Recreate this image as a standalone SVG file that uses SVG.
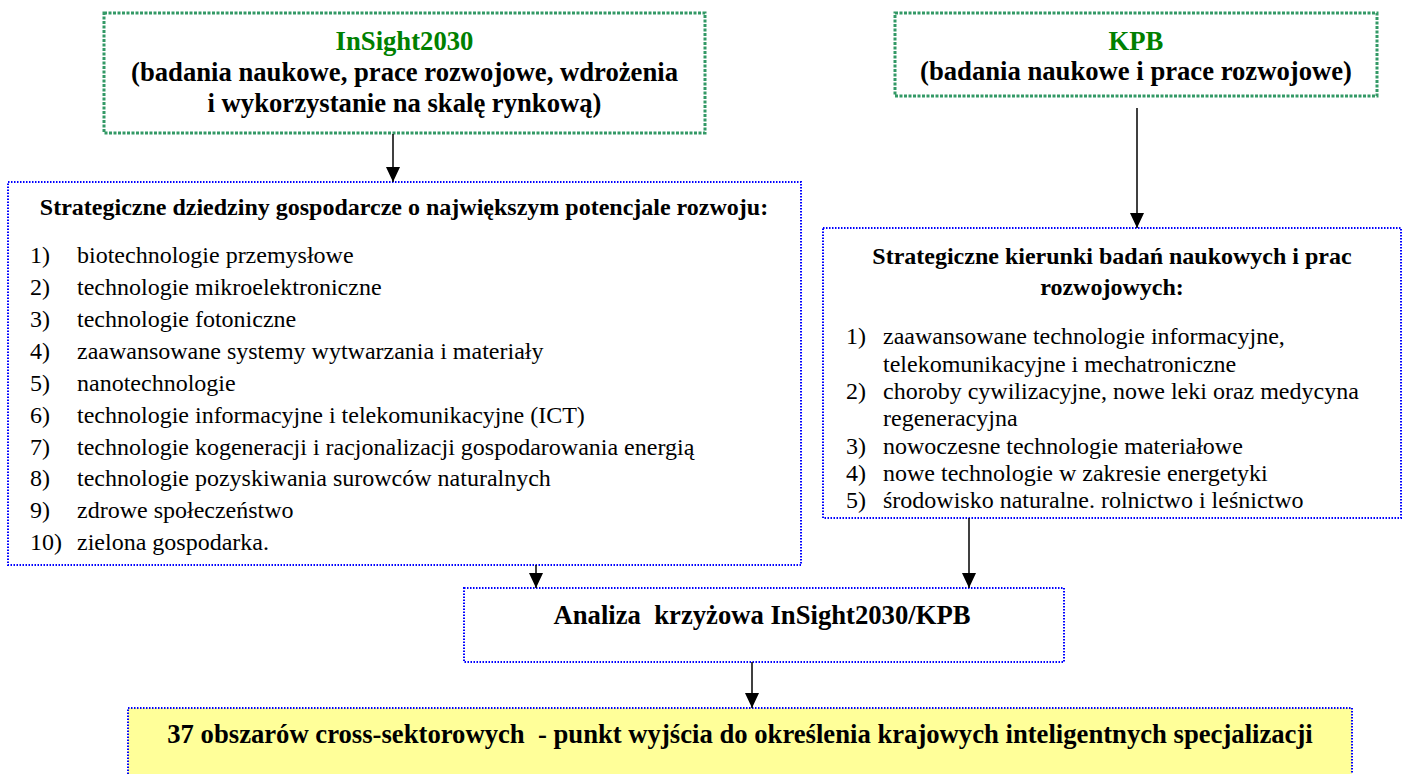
<svg xmlns="http://www.w3.org/2000/svg" width="1405" height="774" viewBox="0 0 1405 774">
<style>
  text { font-family: "Liberation Serif", "Times New Roman", serif; fill: #000; }
  .t20 { font-size: 26.67px; font-weight: bold; }
  .hd { font-size: 24px; font-weight: bold; }
  .li { font-size: 24px; }
  .green { fill: #008000; }
  .gbox { fill: #fff; stroke: #339966; stroke-width: 3; stroke-dasharray: 3 1.5; }
  .bbox { fill: #fff; stroke: #0000ff; stroke-width: 2; stroke-dasharray: 1.5 1.5; }
  .ybox { fill: #ffff99; stroke: #0000ff; stroke-width: 2; stroke-dasharray: 1.5 1.5; }
  .conn { stroke: #000; stroke-width: 1.5; fill: none; marker-end: url(#ah); }
</style>
<defs>
  <marker id="ah" markerUnits="userSpaceOnUse" markerWidth="15" markerHeight="14" refX="15" refY="7" orient="auto" viewBox="0 0 15 14">
    <path d="M0,0 L15,7 L0,14 Z" fill="#000"/>
  </marker>
</defs>
<rect width="1405" height="774" fill="#fff"/>

<g id="insight">
  <rect class="gbox" x="104" y="13" width="601" height="120"/>
  <text class="t20 green" x="404.5" y="50" text-anchor="middle">InSight2030</text>
  <text class="t20" x="404.5" y="81" text-anchor="middle">(badania naukowe, prace rozwojowe, wdrożenia</text>
  <text class="t20" x="404.5" y="112" text-anchor="middle">i wykorzystanie na skalę rynkową)</text>
</g>

<g id="kpb">
  <rect class="gbox" x="895" y="13" width="482" height="83"/>
  <text class="t20 green" x="1136" y="50" text-anchor="middle">KPB</text>
  <text class="t20" x="1136" y="80" text-anchor="middle">(badania naukowe i prace rozwojowe)</text>
</g>

<g id="dziedziny">
  <rect class="bbox" x="8" y="182" width="793" height="383"/>
  <text class="hd" x="404" y="215" text-anchor="middle">Strategiczne dziedziny gospodarcze o największym potencjale rozwoju:</text>
  <text class="li" x="30" y="263">1)</text><text class="li" x="77" y="263">biotechnologie przemysłowe</text>
  <text class="li" x="30" y="295">2)</text><text class="li" x="77" y="295">technologie mikroelektroniczne</text>
  <text class="li" x="30" y="327">3)</text><text class="li" x="77" y="327">technologie fotoniczne</text>
  <text class="li" x="30" y="359">4)</text><text class="li" x="77" y="359">zaawansowane systemy wytwarzania i materiały</text>
  <text class="li" x="30" y="391">5)</text><text class="li" x="77" y="391">nanotechnologie</text>
  <text class="li" x="30" y="423">6)</text><text class="li" x="77" y="423">technologie informacyjne i telekomunikacyjne (ICT)</text>
  <text class="li" x="30" y="455">7)</text><text class="li" x="77" y="455">technologie kogeneracji i racjonalizacji gospodarowania energią</text>
  <text class="li" x="30" y="486">8)</text><text class="li" x="77" y="486">technologie pozyskiwania surowców naturalnych</text>
  <text class="li" x="30" y="518">9)</text><text class="li" x="77" y="518">zdrowe społeczeństwo</text>
  <text class="li" x="30" y="550">10)</text><text class="li" x="77" y="550">zielona gospodarka.</text>
</g>

<g id="kierunki">
  <rect class="bbox" x="823" y="228" width="578" height="290"/>
  <text class="hd" x="1112" y="264" text-anchor="middle">Strategiczne kierunki badań naukowych i prac</text>
  <text class="hd" x="1112" y="295" text-anchor="middle">rozwojowych:</text>
  <text class="li" x="846" y="344">1)</text><text class="li" x="883" y="344">zaawansowane technologie informacyjne,</text>
  <text class="li" x="883" y="371.5">telekomunikacyjne i mechatroniczne</text>
  <text class="li" x="846" y="399">2)</text><text class="li" x="883" y="399">choroby cywilizacyjne, nowe leki oraz medycyna</text>
  <text class="li" x="883" y="426">regeneracyjna</text>
  <text class="li" x="846" y="453.5">3)</text><text class="li" x="883" y="453.5">nowoczesne technologie materiałowe</text>
  <text class="li" x="846" y="481">4)</text><text class="li" x="883" y="481">nowe technologie w zakresie energetyki</text>
  <text class="li" x="846" y="508">5)</text><text class="li" x="883" y="508">środowisko naturalne. rolnictwo i leśnictwo</text>
</g>

<g id="analiza">
  <rect class="bbox" x="464" y="588" width="600" height="74"/>
  <text class="t20" x="762" y="624" text-anchor="middle" xml:space="preserve">Analiza  krzyżowa InSight2030/KPB</text>
</g>

<g id="obszary">
  <rect class="ybox" x="128" y="708" width="1224" height="90"/>
  <text class="t20" x="740" y="743" text-anchor="middle" xml:space="preserve">37 obszarów cross-sektorowych  - punkt wyjścia do określenia krajowych inteligentnych specjalizacji</text>
</g>

<g id="connectors">
  <line class="conn" x1="393" y1="134" x2="393" y2="182"/>
  <line class="conn" x1="1137" y1="108" x2="1137" y2="228"/>
  <line class="conn" x1="536" y1="565" x2="536" y2="588"/>
  <line class="conn" x1="969" y1="518" x2="969" y2="588"/>
  <line class="conn" x1="752" y1="662" x2="752" y2="708"/>
</g>
</svg>
